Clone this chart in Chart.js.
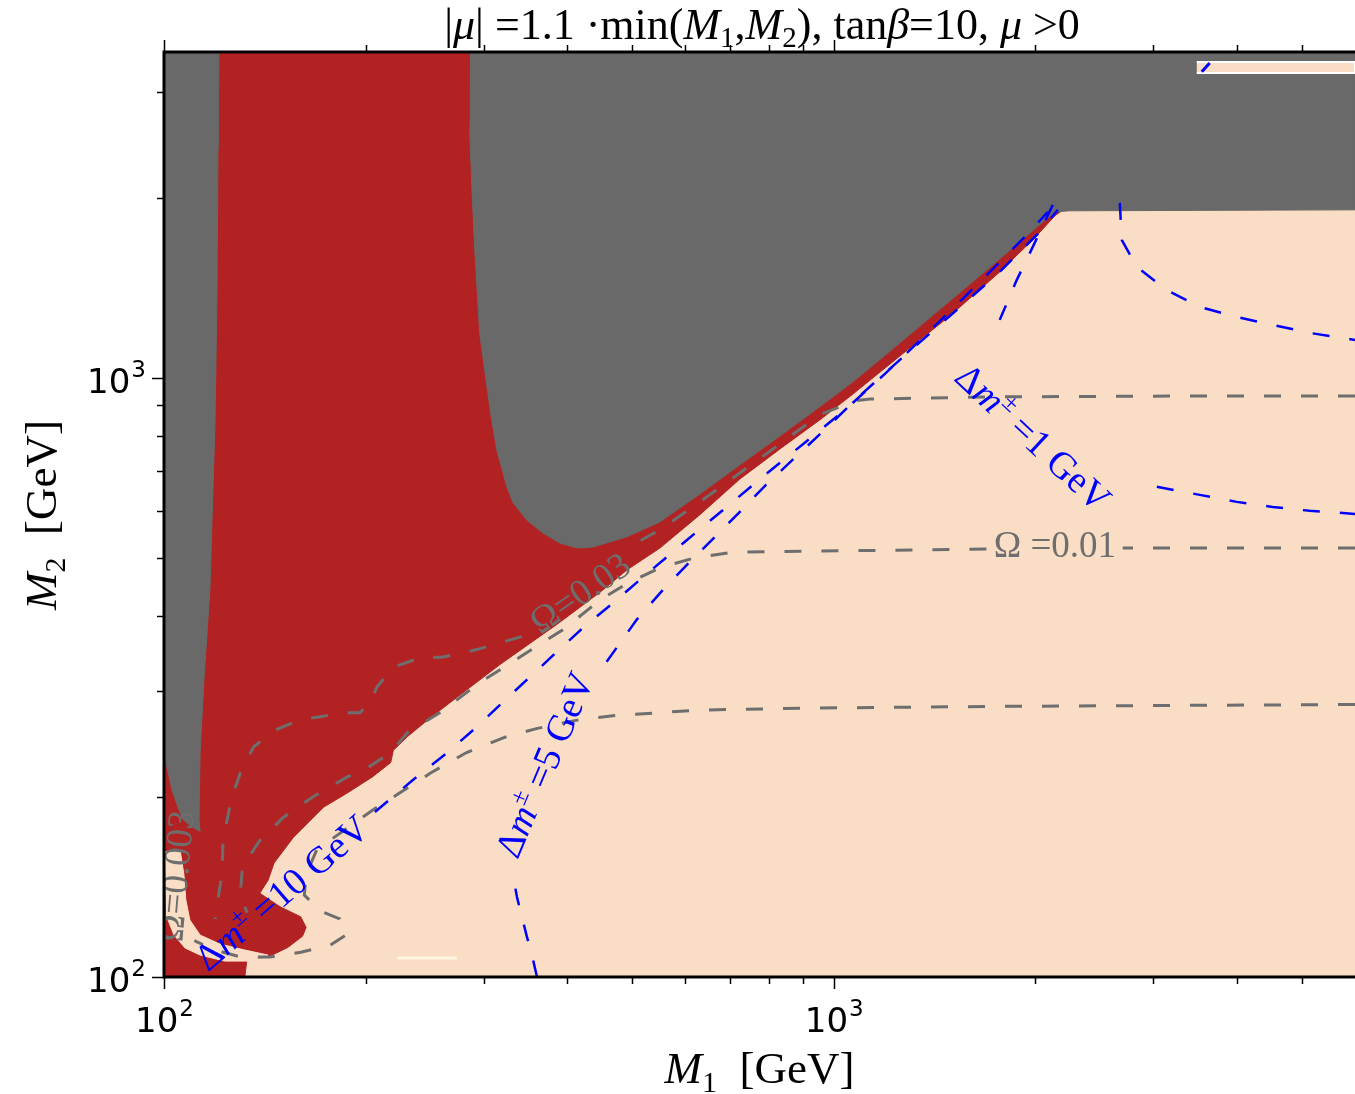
<!DOCTYPE html>
<html>
<head>
<meta charset="utf-8">
<script src="https://cdn.jsdelivr.net/npm/chart.js@4.4.1/dist/chart.umd.min.js"></script>
<style>
  html, body { margin: 0; padding: 0; background: #fff; }
  #wrap { width: 1355px; height: 1094px; }
</style>
</head>
<body>
<div id="wrap"><canvas id="chart" width="1355" height="1094"></canvas></div>
<script>
// axis ranges (GeV)
const m1Range = [100, 6000];
const m2Range = [100, 3500];

// tick positions and labels
const majorTicks = [100, 1000];
const majorExps = ['2', '3'];
const xMinorTicks = [200, 300, 400, 500, 600, 700, 800, 900, 2000, 3000, 4000, 5000];
const yMinorTicks = [200, 300, 400, 500, 600, 700, 800, 900, 2000, 3000];

// filled regions, M1 / M2 in GeV
const bgM1 = [100, 6000, 6000, 100];
const bgM2 = [100, 100, 3500, 3500];

const redM1 = [100, 2190, 2190, 2138, 1995, 1769, 1490, 1255, 1068, 953, 831, 724, 631, 550, 491, 448, 390, 317, 277, 250, 231, 220, 218, 205, 188, 173, 156, 146, 143, 139, 149, 160, 163, 161, 153, 143, 133, 132, 100];
const redM2 = [3500, 3500, 1901, 1865, 1713, 1503, 1269, 1088, 940, 851, 761, 678, 591, 520, 478, 439, 391, 332, 296, 271, 252, 239, 228, 216, 203, 192, 171, 155, 145, 138, 131, 126, 121, 117, 112, 108, 107, 100, 100];

const tongueM1 = [100.3, 105.7, 107.1, 107.8, 109.3, 113.2, 121.2, 132.1, 143.0, 134.4, 123.3, 113.2, 107.5, 103.5, 100.7];
const tongueM2 = [161.7, 162.9, 148.0, 134.5, 124.5, 117.5, 113.5, 110.9, 108.8, 106.3, 106.3, 108.8, 111.8, 117.5, 126.9];

const grayStripM1 = [100, 120.8, 120.4, 120.0, 119.2, 117.1, 114.7, 113.2, 112.8, 113.2, 109.3, 106.4, 102.8, 100];
const grayStripM2 = [3500, 3500, 2403, 1402, 851, 443, 313, 237, 183, 175, 179, 184, 205, 237];

const grayMainM1 = [286.3, 6000, 6000, 2250, 2138, 1995, 1769, 1490, 1255, 1068, 953, 831, 724, 631, 550, 491, 437, 414, 390, 368, 348, 332, 325, 314, 308, 303, 296, 293, 291, 288, 286];
const grayMainM2 = [3500, 3500, 1908, 1901, 1893, 1773, 1580, 1344, 1144, 985, 895, 800, 716, 640, 575, 543, 522, 520, 530, 551, 579, 619, 658, 758, 861, 981, 1189, 1441, 1636, 2116, 2594];

const stripM1 = [3483, 6000, 6000, 3483];
const stripM2 = [3369, 3369, 3229, 3229];

const creamM1 = [222.8, 273.7];
const creamM2 = [107.6, 107.6];

// relic density contours (null = inline label gap)
const om003M1 = [6000, 3519, 1769, 1132, 1075, 1039, 953, 831, 724, 631, 550, 513, null, 342, 328, 293, 261, 241, 220, 208, 203, 196, 185, 171, 160, 146, 136, 130, 126, 122.5, 122.1, 120.4, 119.2];
const om003M2 = [933, 933, 930, 922, 916, 902, 868, 776, 694, 621, 558, 534, null, 370, 365, 352, 342, 341, 329, 305, 287, 276, 276, 272, 269, 258, 242, 219, 198, 169, 149, 135, 125];

const om001M1 = [6000, 2700, null, 1690, 709, 620, 550, 493, 448, 394, 340, 296, 258, 231, 218, 196, 188, 167, 151, 139, 131, 130, 133];
const om001M2 = [520, 520, null, 518, 512, 501, 482, 455, 426, 380, 342, 310, 276, 256, 237, 219, 216, 200, 185, 169, 153, 138, 128];

const omLowM1 = [6000, 1769, 890, 631, 468, 418, 361, 325, 283, 250, 225, 205, 186, 169, 163, 162, 171, 183, 188, 177, 160, 144, 130, 119, 111];
const omLowM2 = [285, 283, 281, 279, 273, 269, 260, 252, 237, 219, 203, 190, 176, 163, 148, 137, 129, 125, 118, 113, 110, 108, 108, 111, 115];

// mass splitting contours
const dm10M1 = [206.5, 235, 264.5, 293, 321, 352, 386, 422, 468, 526, 603, 692, 792, 908, 1039, 1192, 1362, 1563, 1794, 1961, 2087];
const dm10M2 = [188.6, 213, 236.6, 261.5, 288, 317, 349, 382.5, 421, 471, 536, 609, 691, 782, 884, 1016, 1171, 1360, 1586, 1753, 1893];

const dm5M1 = [360.5, 354.3, 348.3, 342.3, 336.5, 333, null, 458, 508, 556, 603, 646, 721, 792, 884, 986, 1097, 1255, 1490, 1769, 2030, 2160];
const dm5M2 = [100, 108.8, 116.6, 125.9, 136, 145, null, 336, 395, 443, 487, 526, 595, 663, 744, 835, 937, 1072, 1269, 1503, 1753, 1908];

const dm1M1 = [2123, 1982, 1876, 1769, null, 3036, 3519, 3996, 4521, 5134, 6000];
const dm1M2 = [1945, 1655, 1458, 1250, null, 658, 638, 621, 609, 600, 593];

const dmTopM1 = [2673, 2691, 2833, 3140, 3519, 3996, 4521, 5134, 6000];
const dmTopM2 = [1960, 1700, 1532, 1402, 1314, 1264, 1226, 1189, 1157];

const dmCornerM1 = [3543, 3641];
const dmCornerM2 = [3243, 3356];

// inline contour labels
const labelKinds = ['om', 'om', 'dm', 'dm', 'dm', 'om'];
const labelValues = ['0.03', '0.01', '10', '5', '1', '0.003'];
const labelM1 = [417.8, 2138, 150, 370.5, 1982, 104.2];
const labelM2 = [437.7, 526, 138.1, 225.9, 794, 147.4];
const labelAngles = [-34.6, 0, -40.7, -67, 43, -85];

const PEACH = '#f9dec5';
const RED = '#b22222';
const GRAY = '#696969';
const LINEGRAY = '#6e6e6e';
const BLUE = '#0000ff';
const serif = '"Liberation Serif", "DejaVu Serif", serif';
const sans = '"DejaVu Sans", sans-serif';

const pts = (xs, ys) => xs.map((x, i) => ({ x: x, y: ys[i] }));

function region(xs, ys, color, order) {
  return {
    data: pts(xs, ys), showLine: true, fill: 'shape',
    backgroundColor: color, borderColor: color, borderWidth: 1,
    pointRadius: 0, order: order
  };
}

function contour(xs, ys, color, width, order) {
  return {
    data: pts(xs, ys), showLine: true, fill: false, spanGaps: false,
    borderColor: color, borderWidth: width, borderDash: [17, 20],
    pointRadius: 0, order: order
  };
}

// draw a list of text runs centred on (cx, cy), rotated
function drawRuns(ctx, runs, cx, cy, angle, color) {
  ctx.save();
  ctx.translate(cx, cy);
  ctx.rotate(angle * Math.PI / 180);
  ctx.fillStyle = color;
  ctx.textBaseline = 'alphabetic';
  let w = 0;
  runs.forEach(r => { ctx.font = r.font; r.w = ctx.measureText(r.text).width; w += r.w; });
  let x = -w / 2;
  runs.forEach(r => { ctx.font = r.font; ctx.fillText(r.text, x, (r.dy || 0) + 12); x += r.w; });
  ctx.restore();
}

function labelRuns(kind, value) {
  if (kind === 'om') {
    return [
      { text: 'Ω', font: '37px ' + serif },
      { text: (value === '0.01' ? ' =' : '=') + value, font: '37px ' + serif }
    ];
  }
  return [
    { text: 'Δ', font: '38px ' + serif },
    { text: 'm', font: 'italic 38px ' + serif },
    { text: '±', font: '25px ' + serif, dy: -15 },
    { text: ' =' + value + ' GeV', font: '38px ' + serif }
  ];
}

const labelPlugin = {
  id: 'contourLabels',
  afterDatasetsDraw(chart) {
    const { ctx, chartArea: a, scales: { x, y } } = chart;
    ctx.save();
    ctx.beginPath();
    ctx.rect(a.left, a.top, a.right - a.left, a.bottom - a.top);
    ctx.clip();
    labelKinds.forEach((kind, i) => {
      drawRuns(ctx, labelRuns(kind, labelValues[i]),
        x.getPixelForValue(labelM1[i]), y.getPixelForValue(labelM2[i]),
        labelAngles[i], kind === 'om' ? LINEGRAY : BLUE);
    });
    ctx.restore();
  }
};

const framePlugin = {
  id: 'frame',
  afterDraw(chart) {
    const { ctx, chartArea: a, scales: { x, y } } = chart;
    ctx.save();
    // spines
    ctx.strokeStyle = '#000';
    ctx.lineWidth = 3;
    ctx.beginPath();
    ctx.moveTo(a.right, a.top); ctx.lineTo(a.left, a.top);
    ctx.lineTo(a.left, a.bottom); ctx.lineTo(a.right, a.bottom);
    ctx.stroke();

    // ticks
    ctx.lineWidth = 1.5;
    const tick = (vals, len) => {
      vals.forEach(v => {
        const px = Math.round(x.getPixelForValue(v)) + 0.5;
        ctx.beginPath();
        ctx.moveTo(px, a.bottom); ctx.lineTo(px, a.bottom + len);
        ctx.moveTo(px, a.top); ctx.lineTo(px, a.top - len);
        ctx.stroke();
      });
    };
    const ytick = (vals, len) => {
      vals.forEach(v => {
        const py = Math.round(y.getPixelForValue(v)) + 0.5;
        ctx.beginPath();
        ctx.moveTo(a.left, py); ctx.lineTo(a.left - len, py);
        ctx.stroke();
      });
    };
    tick(majorTicks, 12); tick(xMinorTicks, 7);
    ytick(majorTicks, 12); ytick(yMinorTicks, 7);

    // tick labels 10^n
    ctx.fillStyle = '#000';
    ctx.textBaseline = 'alphabetic';
    const base = '34px ' + sans, sup = '23px ' + sans;
    majorTicks.forEach((v, i) => {
      ctx.font = base; const w1 = ctx.measureText('10').width;
      ctx.font = sup; const w2 = ctx.measureText(majorExps[i]).width;
      // x axis
      let px = x.getPixelForValue(v) - (w1 + w2) / 2;
      ctx.font = base; ctx.fillText('10', px, a.bottom + 55);
      ctx.font = sup; ctx.fillText(majorExps[i], px + w1 + 1, a.bottom + 39);
      // y axis
      px = a.left - 19 - (w1 + w2);
      const py = y.getPixelForValue(v) + 15;
      ctx.font = base; ctx.fillText('10', px, py);
      ctx.font = sup; ctx.fillText(majorExps[i], px + w1 + 1, py - 16);
    });

    // axis titles
    const axisRuns = (n) => [
      { text: 'M', font: 'italic 45px ' + serif },
      { text: n, font: '30px ' + serif, dy: 9 },
      { text: '  [GeV]', font: '45px ' + serif }
    ];
    drawRuns(ctx, axisRuns('1'), (a.left + a.right) / 2, a.bottom + 94, 0, '#000');
    drawRuns(ctx, axisRuns('2'), 44, 515, -90, '#000');

    // title
    const T = '44px ' + serif, I = 'italic 44px ' + serif, S = '29px ' + serif;
    drawRuns(ctx, [
      { text: '|', font: T }, { text: 'μ', font: I }, { text: '| =1.1 ·min(', font: T },
      { text: 'M', font: I }, { text: '1', font: S, dy: 8 }, { text: ',', font: T },
      { text: 'M', font: I }, { text: '2', font: S, dy: 8 }, { text: '), tan', font: T },
      { text: 'β', font: I }, { text: '=10, ', font: T }, { text: 'μ', font: I },
      { text: ' >0', font: T }
    ], 762, 27, 0, '#000');
    ctx.restore();
  }
};

new Chart(document.getElementById('chart'), {
  type: 'scatter',
  data: {
    datasets: [
      region(bgM1, bgM2, PEACH, 20),
      region(redM1, redM2, RED, 18),
      region(tongueM1, tongueM2, PEACH, 17),
      region(grayStripM1, grayStripM2, GRAY, 16),
      region(grayMainM1, grayMainM2, GRAY, 16),
      { data: pts(stripM1, stripM2), showLine: true, fill: 'shape', backgroundColor: PEACH,
        borderColor: '#ffffff', borderWidth: 2, pointRadius: 0, order: 15 },
      { data: pts(creamM1, creamM2), showLine: true, borderColor: '#fff6e2', borderWidth: 3,
        pointRadius: 0, order: 14 },
      contour(om003M1, om003M2, LINEGRAY, 3, 5),
      contour(om001M1, om001M2, LINEGRAY, 3, 5),
      contour(omLowM1, omLowM2, LINEGRAY, 3, 5),
      contour(dm10M1, dm10M2, BLUE, 2.5, 4),
      contour(dm5M1, dm5M2, BLUE, 2.5, 4),
      contour(dm1M1, dm1M2, BLUE, 2.5, 4),
      contour(dmTopM1, dmTopM2, BLUE, 2.5, 4),
      { data: pts(dmCornerM1, dmCornerM2), showLine: true, borderColor: BLUE, borderWidth: 3,
        pointRadius: 0, order: 3 }
    ]
  },
  options: {
    responsive: false,
    animation: false,
    events: [],
    layout: { padding: { left: 164, top: 52, right: 0, bottom: 117 } },
    plugins: { legend: { display: false }, tooltip: { enabled: false }, title: { display: false } },
    scales: {
      x: { type: 'logarithmic', min: m1Range[0], max: m1Range[1], display: false },
      y: { type: 'logarithmic', min: m2Range[0], max: m2Range[1], display: false }
    }
  },
  plugins: [labelPlugin, framePlugin]
});
</script>
</body>
</html>
